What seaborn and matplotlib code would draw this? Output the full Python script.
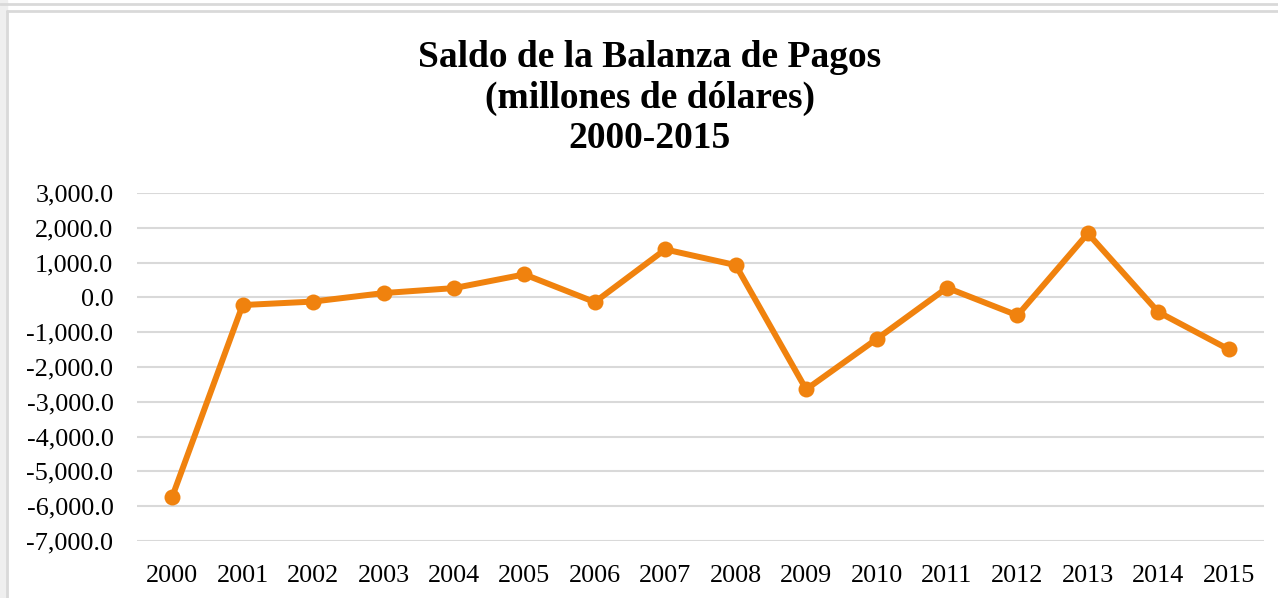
import matplotlib
matplotlib.use("Agg")
import matplotlib.pyplot as plt
import seaborn as sns
import pandas as pd
from matplotlib.patches import Rectangle
from matplotlib.lines import Line2D

years = [2000, 2001, 2002, 2003, 2004, 2005, 2006, 2007, 2008, 2009, 2010, 2011, 2012, 2013, 2014, 2015]
saldo = [-5730, -220, -120, 124, 267, 661, -135, 1379, 928, -2644, -1198, 276, -517, 1839, -422, -1494]
title_lines = ["Saldo de la Balanza de Pagos", "(millones de dólares)", "2000-2015"]
y_ticks = [3000, 2000, 1000, 0, -1000, -2000, -3000, -4000, -5000, -6000, -7000]

df = pd.DataFrame({"year": years, "saldo": saldo})

sns.set_theme(style="white")
plt.rcParams['font.family'] = ['Liberation Serif', 'DejaVu Serif']

fig = plt.figure(figsize=(12.78, 5.98), dpi=100)
W, H = 1278, 598

# outer frame decorations
fig.patches.append(Rectangle((0, 0), 7 / W, 1, transform=fig.transFigure, color="#efefef", zorder=0))
fig.lines.append(Line2D([0, 1], [1 - 4 / H, 1 - 4 / H], transform=fig.transFigure, color="#d9d9d9", lw=2))
fig.lines.append(Line2D([7 / W, 1], [1 - 11 / H, 1 - 11 / H], transform=fig.transFigure, color="#d9d9d9", lw=2))
fig.lines.append(Line2D([7 / W, 7 / W], [0, 1 - 11 / H], transform=fig.transFigure, color="#d9d9d9", lw=2))

ax = fig.add_axes([137 / W, 1 - 541 / H, (1264 - 137) / W, (541 - 193) / H])

sns.lineplot(data=df, x="year", y="saldo", ax=ax, color="#F0820E", linewidth=4.3,
             marker="o", markersize=11.5, markeredgewidth=0, zorder=3)

ax.set_xlim(years[0] - 0.5, years[-1] + 0.5)
ax.set_ylim(min(y_ticks), max(y_ticks))
ax.set_yticks(y_ticks)
ax.set_yticklabels([f"{v:,.1f}" for v in y_ticks])
ax.set_xticks(years)
ax.set_xticklabels([str(y) for y in years])
ax.tick_params(axis="y", length=0, pad=17, labelsize=18.8, labelcolor="#000000")
ax.tick_params(axis="x", length=0, pad=17, labelsize=18.8, labelcolor="#000000")
ax.grid(axis="y", color="#d9d9d9", linewidth=1.5)
ax.grid(axis="x", visible=False)
ax.set_axisbelow(True)
for s in ax.spines.values():
    s.set_visible(False)
ax.set_xlabel("")
ax.set_ylabel("")

fig.text(650 / W, 1 - 148 / H, "\n".join(title_lines), ha="center", va="baseline",
         fontsize=27, fontweight="bold", linespacing=1.2, color="#000000")

fig.savefig("out.png", dpi=100)
